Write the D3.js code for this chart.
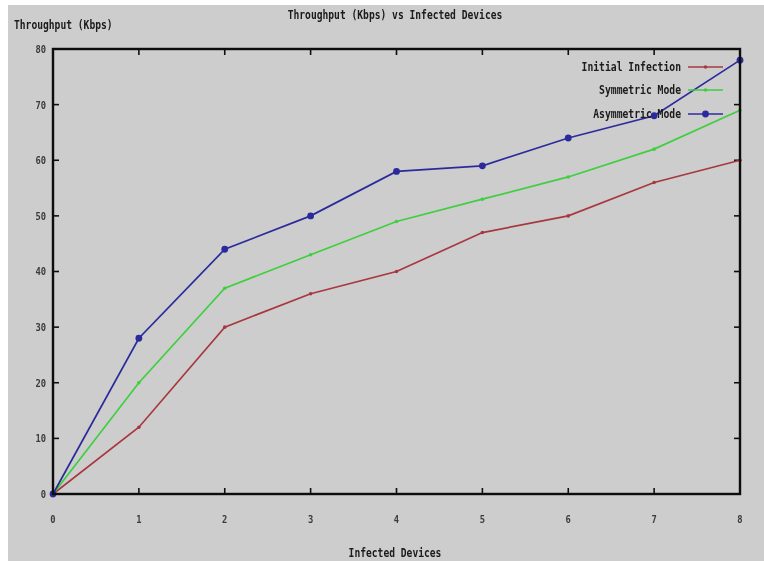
<!DOCTYPE html>
<html>
<head>
<meta charset="utf-8">
<script src="https://cdn.jsdelivr.net/npm/d3@7"></script>
<style>
  html, body { margin: 0; padding: 0; background: #ffffff; }
  svg { display: block; }
  text { font-family: "DejaVu Sans Mono", "Liberation Mono", monospace; fill: #1a1a1a; font-weight: bold; }
</style>
</head>
<body>
<svg id="chart" width="764" height="561"></svg>
<script>
// Infected device counts on the x axis
const devices = [0, 1, 2, 3, 4, 5, 6, 7, 8];
// Throughput (Kbps) per mode
const initialInfection = [0, 12, 30, 36, 40, 47, 50, 56, 60];
const symmetricMode    = [0, 20, 37, 43, 49, 53, 57, 62, 69];
const asymmetricMode   = [0, 28, 44, 50, 58, 59, 64, 68, 78];
const seriesNames  = ["Initial Infection", "Symmetric Mode", "Asymmetric Mode"];
const xTicks = [0, 1, 2, 3, 4, 5, 6, 7, 8];
const yTicks = [0, 10, 20, 30, 40, 50, 60, 70, 80];

const series = [
  { name: seriesNames[0], values: initialInfection, color: "#a83840", r: 1.8 },
  { name: seriesNames[1], values: symmetricMode,    color: "#3fcf3f", r: 1.8 },
  { name: seriesNames[2], values: asymmetricMode,   color: "#2c2c9c", r: 3.4 }
];

const svg = d3.select("#chart");
const W = 764, H = 561;

// page background with a thin white margin at top/left
svg.append("rect").attr("x", 8).attr("y", 5).attr("width", W - 8).attr("height", H - 5)
  .attr("fill", "#cdcdcd");

const defs = svg.append("defs");
const soft = defs.append("filter").attr("id", "soft")
  .attr("x", "-5%").attr("y", "-5%").attr("width", "110%").attr("height", "110%");
soft.append("feGaussianBlur").attr("stdDeviation", 0.5);
const softText = defs.append("filter").attr("id", "softText")
  .attr("x", "-5%").attr("y", "-20%").attr("width", "110%").attr("height", "140%");
softText.append("feGaussianBlur").attr("stdDeviation", 0.6);

const plotL = 53, plotR = 740, plotT = 49, plotB = 494;
const x = d3.scaleLinear().domain([0, 8]).range([plotL, plotR]);
const y = d3.scaleLinear().domain([0, 80]).range([plotB, plotT]);

const g = svg.append("g").attr("filter", "url(#soft)");
const gt = svg.append("g").attr("filter", "url(#softText)");

// ticks on all four sides, pointing inwards
const tickLen = 6;
const tickStyle = sel => sel.attr("stroke", "#111").attr("stroke-width", 1.6);
xTicks.forEach(t => {
  g.append("line").attr("x1", x(t)).attr("x2", x(t)).attr("y1", plotB).attr("y2", plotB - tickLen).call(tickStyle);
  g.append("line").attr("x1", x(t)).attr("x2", x(t)).attr("y1", plotT).attr("y2", plotT + tickLen).call(tickStyle);
});
yTicks.forEach(t => {
  g.append("line").attr("x1", plotL).attr("x2", plotL + tickLen).attr("y1", y(t)).attr("y2", y(t)).call(tickStyle);
  g.append("line").attr("x1", plotR).attr("x2", plotR - tickLen).attr("y1", y(t)).attr("y2", y(t)).call(tickStyle);
});

// tick labels
const labelFont = 11;
gt.selectAll(".xl").data(xTicks).join("text")
  .attr("x", d => x(d)).attr("y", 523).attr("text-anchor", "middle")
  .attr("font-size", labelFont).style("fill", "#3a3a3a")
  .attr("transform", d => `translate(${x(d)},0) scale(0.8,1) translate(${-x(d)},0)`)
  .text(d => d);
gt.selectAll(".yl").data(yTicks).join("text")
  .attr("x", 46).attr("y", d => y(d) + 4).attr("text-anchor", "end")
  .attr("font-size", labelFont).style("fill", "#3a3a3a")
  .attr("transform", "translate(46,0) scale(0.8,1) translate(-46,0)")
  .text(d => d);

// series lines and markers
const line = d3.line().x((d, i) => x(devices[i])).y(d => y(d));
series.forEach(s => {
  g.append("path").datum(s.values).attr("d", line)
    .attr("fill", "none").attr("stroke", s.color).attr("stroke-width", 1.7);
  g.selectAll(null).data(s.values).join("circle")
    .attr("cx", (d, i) => x(devices[i])).attr("cy", d => y(d))
    .attr("r", s.r).attr("fill", s.color);
});

// frame
g.append("rect").attr("x", plotL).attr("y", plotT).attr("width", plotR - plotL).attr("height", plotB - plotT)
  .attr("fill", "none").attr("stroke", "#111").attr("stroke-width", 2.4);

// legend
const legRows = [67, 90, 114];
series.forEach((s, i) => {
  const ly = legRows[i];
  gt.append("text").attr("x", 681).attr("y", ly + 4).attr("text-anchor", "end")
    .attr("font-size", 12).attr("textLength", s.name.length * 5.85).attr("lengthAdjust", "spacingAndGlyphs")
    .text(s.name);
  g.append("line").attr("x1", 688).attr("x2", 723).attr("y1", ly).attr("y2", ly)
    .attr("stroke", s.color).attr("stroke-width", 1.7);
  g.append("circle").attr("cx", 705.5).attr("cy", ly).attr("r", s.r).attr("fill", s.color);
});

// titles
const title = "Throughput (Kbps) vs Infected Devices";
gt.append("text").attr("x", 395).attr("y", 19).attr("text-anchor", "middle")
  .attr("font-size", 12).attr("textLength", title.length * 5.8).attr("lengthAdjust", "spacingAndGlyphs")
  .text(title);
const yTitle = "Throughput (Kbps)";
gt.append("text").attr("x", 14).attr("y", 29)
  .attr("font-size", 12).attr("textLength", yTitle.length * 5.8).attr("lengthAdjust", "spacingAndGlyphs")
  .text(yTitle);
const xTitle = "Infected Devices";
gt.append("text").attr("x", 395).attr("y", 557).attr("text-anchor", "middle")
  .attr("font-size", 12).attr("textLength", xTitle.length * 5.8).attr("lengthAdjust", "spacingAndGlyphs")
  .text(xTitle);
</script>
</body>
</html>
